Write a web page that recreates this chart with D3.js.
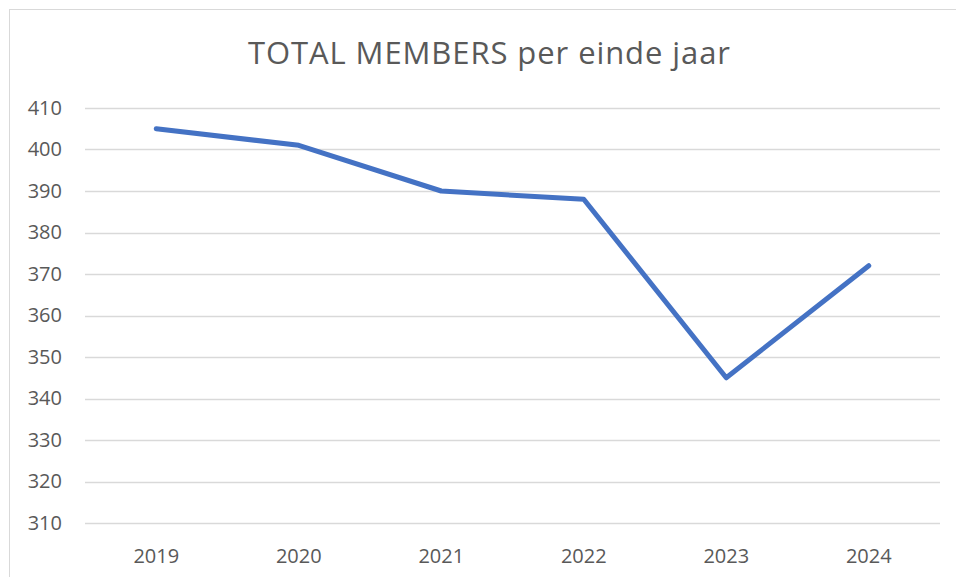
<!DOCTYPE html>
<html>
<head>
<meta charset="utf-8">
<script src="https://cdn.jsdelivr.net/npm/d3@7"></script>
<style>
  html, body { margin: 0; padding: 0; background: #fff; }
  svg text { font-family: "Open Sans", "Noto Sans", sans-serif; fill: #595959; }
</style>
</head>
<body>
<div id="chart"></div>
<script>
const years = ['2019', '2020', '2021', '2022', '2023', '2024'];
const members = [405, 401, 390, 388, 345, 372];
const yTicks = [310, 320, 330, 340, 350, 360, 370, 380, 390, 400, 410];
const title = 'TOTAL MEMBERS per einde jaar';

const width = 956, height = 577;
const margin = {top: 108, right: 16, bottom: 54, left: 85};
const innerW = 940 - margin.left;
const innerH = 523 - margin.top;

const svg = d3.select('#chart').append('svg')
  .attr('width', width)
  .attr('height', height);

// chart frame (runs off the right/bottom edge like the original)
svg.append('rect')
  .attr('x', 9.5).attr('y', 9.5)
  .attr('width', width).attr('height', height)
  .attr('fill', 'none')
  .attr('stroke', '#d9d9d9')
  .attr('stroke-width', 1);

svg.append('text')
  .attr('x', 489).attr('y', 64)
  .attr('text-anchor', 'middle')
  .attr('textLength', 482)
  .attr('lengthAdjust', 'spacing')
  .style('font-size', '31px')
  .text(title);

const plot = svg.append('g').attr('transform', `translate(${margin.left},${margin.top})`);

const x = d3.scaleBand().domain(years).range([0, innerW]);
const y = d3.scaleLinear().domain([310, 410]).range([innerH, 0]);

// gridlines
plot.append('g')
  .selectAll('line')
  .data(yTicks)
  .join('line')
  .attr('x1', 0).attr('x2', innerW)
  .attr('y1', d => Math.round(y(d)) + 0.5)
  .attr('y2', d => Math.round(y(d)) + 0.5)
  .attr('stroke', '#d9d9d9')
  .attr('stroke-width', 1.5);

const yAxis = plot.append('g')
  .call(d3.axisLeft(y).tickValues(yTicks).tickSize(0).tickPadding(23));
yAxis.select('.domain').remove();
yAxis.selectAll('text').style('font-size', '20px').attr('fill', '#595959');

const xAxis = plot.append('g')
  .attr('transform', `translate(0,${innerH})`)
  .call(d3.axisBottom(x).tickSize(0).tickPadding(26));
xAxis.select('.domain').remove();
xAxis.selectAll('text').style('font-size', '20px').attr('fill', '#595959');

const line = d3.line()
  .x((d, i) => x(years[i]) + x.bandwidth() / 2)
  .y(d => y(d));

plot.append('path')
  .datum(members)
  .attr('d', line)
  .attr('fill', 'none')
  .attr('stroke', '#4472c4')
  .attr('stroke-width', 5)
  .attr('stroke-linejoin', 'round')
  .attr('stroke-linecap', 'round');
</script>
</body>
</html>
